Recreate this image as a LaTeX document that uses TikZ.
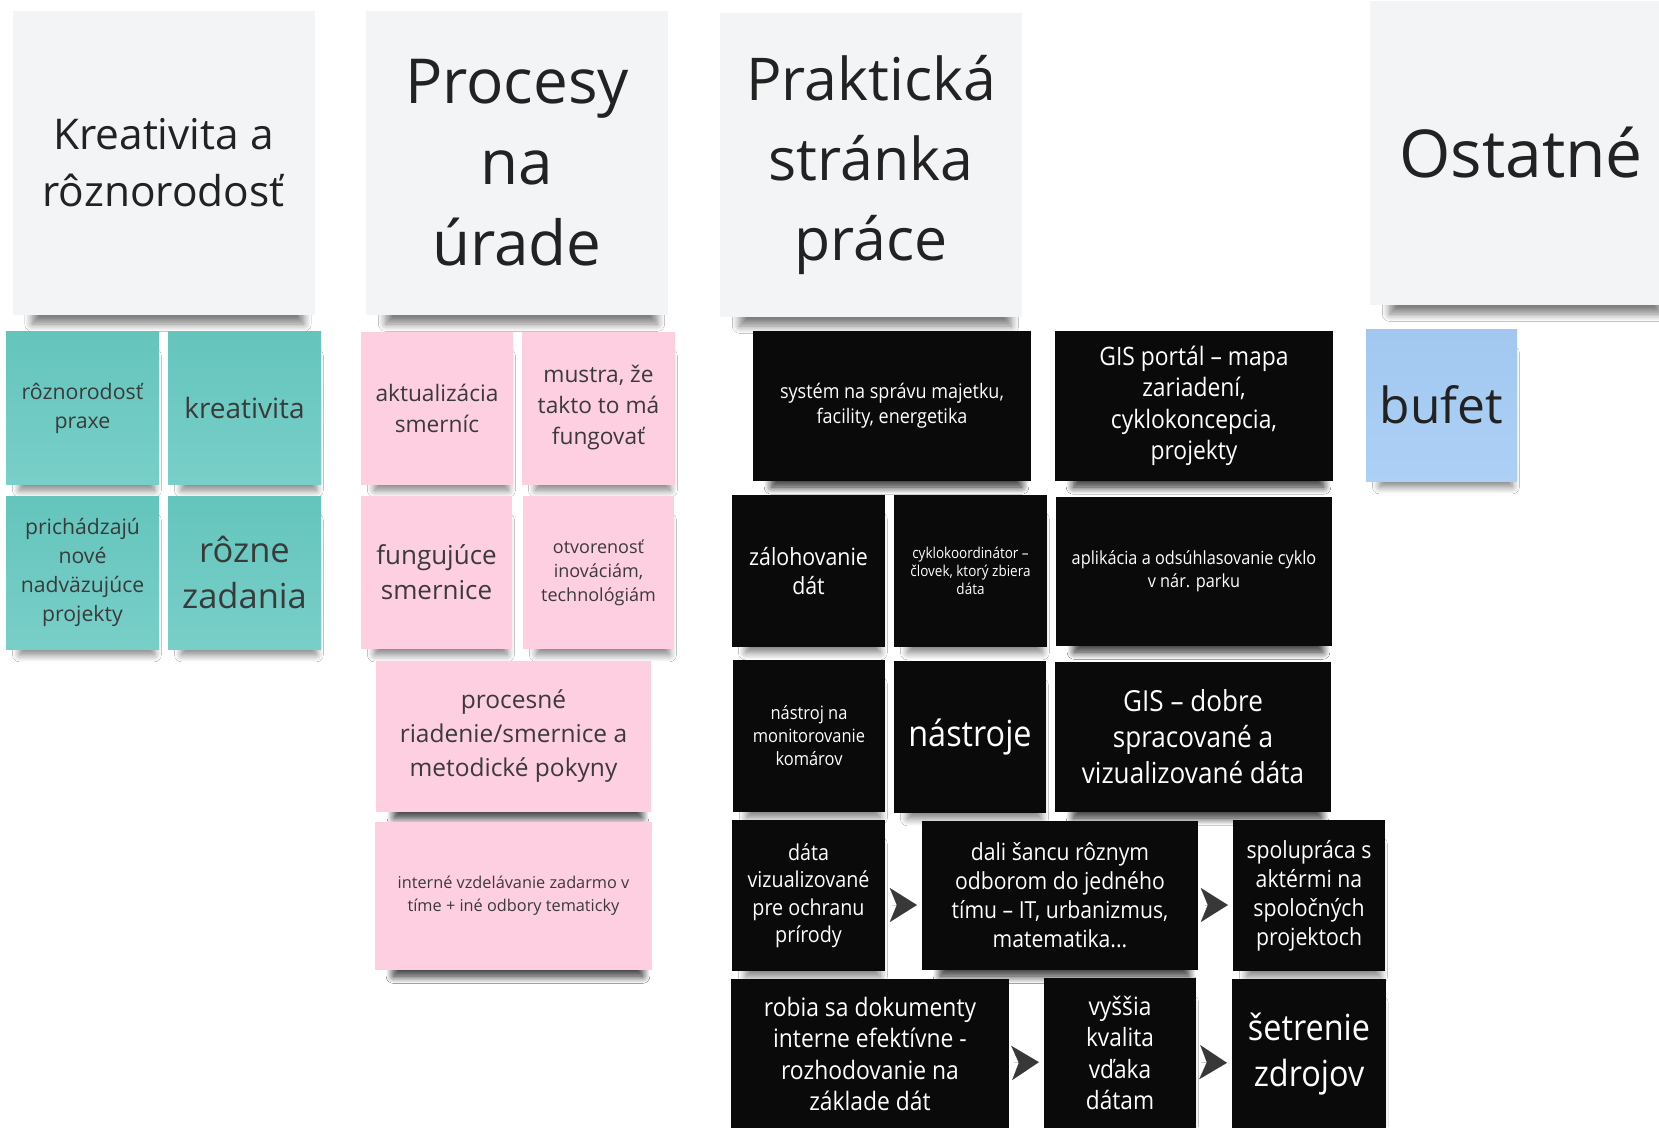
\documentclass[tikz,border=0pt]{standalone}
\usepackage{fontspec}
\setmainfont{Open Sans}
\newfontfamily\condfont[FakeStretch=0.9]{Open Sans}
\usetikzlibrary{shadows.blur,arrows.meta}
\definecolor{hdr}{HTML}{F3F4F6}
\definecolor{tealtop}{HTML}{64C5BD}
\definecolor{tealbot}{HTML}{78CFC8}
\definecolor{pinkn}{HTML}{FECFE1}
\definecolor{bluetop}{HTML}{A2C8F0}
\definecolor{bluebot}{HTML}{ADD0F5}
\definecolor{blackn}{HTML}{0A0A0A}
\definecolor{txt}{HTML}{3A3A3A}
\definecolor{htxt}{HTML}{222222}
\definecolor{arr}{HTML}{383838}
\tikzset{
  note/.style 2 args={inner sep=0pt, align=center,
    blur shadow={shadow xshift=5pt, shadow yshift=#1, shadow scale=#2, shadow opacity=50, shadow blur radius=8pt, shadow blur steps=10}},
  note/.default={-17pt}{0.88},
  sz/.style 2 args={font=\fontsize{#1}{#2}\selectfont},
  bsz/.style 2 args={font=\condfont\fontsize{#1}{#2}\selectfont},
  header/.style={note={-27pt}{0.9}, fill=hdr, text=htxt, minimum width=302pt, minimum height=304pt},
  tealnote/.style={note, top color=tealtop, bottom color=tealbot, text=txt},
  pinknote/.style={note, fill=pinkn, text=txt},
  bluenote/.style={note, top color=bluetop, bottom color=bluebot, text=htxt},
  blacknote/.style={note, fill=blackn, text=white},
  sq/.style={minimum width=153pt, minimum height=153pt},
  wide/.style={note={-15pt}{0.9}, minimum width=277pt, minimum height=150pt},
  chev/.style={-{Stealth[length=27pt, width=34pt, inset=7pt, round]}, line width=0.01pt, draw=arr, fill=arr, color=arr, shorten >=5pt, shorten <=7pt}
}
\begin{document}
\begin{tikzpicture}[x=1pt, y=-1pt]
\useasboundingbox (0,0) rectangle (1659,1127);
\clip (0,0) rectangle (1659,1127);
\fill[white] (0,0) rectangle (1659,1127);

% headers
\node[header, sz={42.4}{57}] (hK) at (163.5,163) {Kreativita a\\rôznorodosť};
\node[header, sz={62}{81}] (hP) at (517,163) {Procesy\\na\\úrade};
\node[header, sz={59}{80}] (hPr) at (871,165) {Praktická\\stránka\\práce};
\node[header, sz={66}{80}] (hO) at (1521,153) {Ostatné};

% teal
\node[tealnote, sq, sz={21.3}{29}] (t1) at (82.5,408) {rôznorodosť\\praxe};
\node[tealnote, sq, sz={28}{35}] (t2) at (244.5,408) {kreativita};
\node[tealnote, sq, sz={21.2}{29}] (t3) at (82.5,572.5) {prichádzajú\\nové\\nadväzujúce\\projekty};
\node[tealnote, sq, sz={34.5}{46}] (t4) at (244.5,572.5) {rôzne\\zadania};

% pink
\node[pinknote, sq, minimum width=152pt, sz={22.7}{31}] (p1) at (437,408) {aktualizácia\\smerníc};
\node[pinknote, sq, sz={22.7}{31}] (p2) at (598.5,408) {mustra, že\\takto to má\\fungovať};
\node[pinknote, sq, minimum width=151pt, sz={26}{35}] (p3) at (436.5,572.5) {fungujúce\\smernice};
\node[pinknote, sq, minimum width=151pt, sz={18}{24}] (p4) at (598.5,572.5) {otvorenosť\\inováciám,\\technológiám};
\node[pinknote, note={-15pt}{0.9}, minimum width=275pt, minimum height=151pt, sz={24.5}{34}] (p5) at (513.5,736.5) {procesné\\riadenie/smernice a\\metodické pokyny};
\node[pinknote, note={-15pt}{0.9}, minimum width=277pt, minimum height=148pt, sz={16.3}{23}] (p6) at (513.5,896) {interné vzdelávanie zadarmo v\\tíme + iné odbory tematicky};

% black
\node[blacknote, wide, minimum width=278pt, bsz={20}{25}] (b1) at (892,406) {systém na správu majetku,\\facility, energetika};
\node[blacknote, wide, minimum width=278pt, bsz={25.4}{31.5}] (b2) at (1194,406) {GIS portál – mapa\\zariadení,\\cyklokoncepcia,\\projekty};
\node[blacknote, sq, minimum height=152pt, bsz={23.7}{29.5}] (b3) at (808.5,571) {zálohovanie\\dát};
\node[blacknote, sq, minimum height=152pt, bsz={15}{18}] (b4) at (970.5,571) {cyklokoordinátor –\\človek, ktorý zbiera\\dáta};
\node[blacknote, wide, minimum width=276pt, minimum height=149pt, bsz={18.1}{23}] (b5) at (1194,571.5) {aplikácia a odsúhlasovanie cyklo\\v nár. parku};
\node[blacknote, sq, minimum width=152pt, minimum height=152pt, bsz={18.3}{23}] (b6) at (809,736) {nástroj na\\monitorovanie\\komárov};
\node[blacknote, sq, minimum width=152pt, minimum height=152pt, bsz={36}{40}] (b7) at (970,737) {nástroje};
\node[blacknote, wide, minimum width=276pt, bsz={29}{36}] (b8) at (1193,737) {GIS – dobre\\spracované a\\vizualizované dáta};
\node[blacknote, sq, minimum height=151pt, bsz={21.9}{27.5}] (b9) at (808.5,895.5) {dáta\\vizualizované\\pre ochranu\\prírody};
\node[blacknote, wide, minimum width=276pt, minimum height=149pt, bsz={23.5}{29}] (b10) at (1060,895.5) {dali šancu rôznym\\odborom do jedného\\tímu – IT, urbanizmus,\\matematika...};
\node[blacknote, sq, minimum width=152pt, minimum height=151pt, bsz={23.6}{29}] (b11) at (1309,895.5) {spolupráca s\\aktérmi na\\spoločných\\projektoch};
\node[blacknote, wide, minimum width=278pt, bsz={25.4}{31.5}] (b12) at (870,1054) {robia sa dokumenty\\interne efektívne -\\rozhodovanie na\\základe dát};
\node[blacknote, sq, minimum width=152pt, minimum height=150pt, bsz={25.2}{31.5}] (b13) at (1120,1053) {vyššia\\kvalita\\vďaka\\dátam};
\node[blacknote, sq, minimum width=154pt, minimum height=150pt, bsz={36}{46}] (b14) at (1309,1054) {šetrenie\\zdrojov};

% blue
\node[bluenote, minimum width=151pt, minimum height=152pt, sz={49.7}{55}] (u1) at (1441.5,405) {bufet};

% arrows
\draw[chev] ([yshift=-9.5pt]b9.east) -- ([yshift=-9.5pt]b10.west);
\draw[chev] ([yshift=-9.5pt]b10.east) -- ([yshift=-9.5pt]b11.west);
\draw[chev, shorten <=5pt] ([yshift=-9pt]b12.east) -- ([yshift=-9pt]b13.west);
\draw[chev, shorten <=5pt] ([yshift=-9pt]b13.east) -- ([yshift=-9pt]b14.west);
\end{tikzpicture}
\end{document}
